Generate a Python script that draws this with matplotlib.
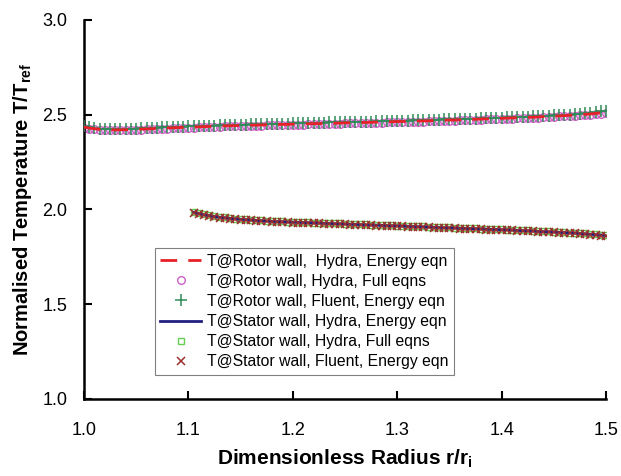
import numpy as np
import matplotlib
matplotlib.use("Agg")
import matplotlib.pyplot as plt

plt.rcParams['font.family'] = ['Liberation Sans', 'DejaVu Sans']
plt.rcParams['mathtext.fontset'] = 'custom'
plt.rcParams['mathtext.rm'] = 'Liberation Sans:bold'
plt.rcParams['mathtext.bf'] = 'Liberation Sans:bold'

# ---- data ----
rotor_r = np.round(np.arange(1.000, 1.5001, 0.005), 3)
rotor_hydra_energy = [
    2.435, 2.430, 2.426, 2.423, 2.421, 2.420, 2.420, 2.420, 2.421, 2.422,
    2.423, 2.424, 2.425, 2.426, 2.428, 2.429, 2.430, 2.431, 2.432, 2.433,
    2.434, 2.435, 2.436, 2.437, 2.438, 2.439, 2.440, 2.441, 2.442, 2.442,
    2.443, 2.444, 2.445, 2.445, 2.446, 2.447, 2.447, 2.448, 2.449, 2.449,
    2.450, 2.451, 2.451, 2.452, 2.453, 2.453, 2.454, 2.455, 2.455, 2.456,
    2.457, 2.457, 2.458, 2.459, 2.459, 2.460, 2.461, 2.461, 2.462, 2.463,
    2.464, 2.464, 2.465, 2.466, 2.467, 2.467, 2.468, 2.469, 2.470, 2.471,
    2.472, 2.472, 2.473, 2.474, 2.475, 2.476, 2.477, 2.478, 2.479, 2.480,
    2.481, 2.482, 2.483, 2.484, 2.485, 2.486, 2.487, 2.488, 2.490, 2.491,
    2.492, 2.494, 2.495, 2.497, 2.498, 2.500, 2.502, 2.504, 2.507, 2.510,
    2.515]
rotor_hydra_full = [
    2.432, 2.427, 2.423, 2.420, 2.418, 2.417, 2.417, 2.417, 2.418, 2.419,
    2.420, 2.421, 2.422, 2.423, 2.425, 2.426, 2.427, 2.428, 2.429, 2.430,
    2.431, 2.432, 2.433, 2.434, 2.435, 2.436, 2.437, 2.438, 2.439, 2.439,
    2.440, 2.441, 2.442, 2.442, 2.443, 2.444, 2.444, 2.445, 2.446, 2.446,
    2.447, 2.448, 2.448, 2.449, 2.450, 2.450, 2.451, 2.452, 2.452, 2.453,
    2.454, 2.454, 2.455, 2.456, 2.456, 2.457, 2.458, 2.458, 2.459, 2.460,
    2.461, 2.461, 2.462, 2.463, 2.464, 2.464, 2.465, 2.466, 2.467, 2.468,
    2.469, 2.469, 2.470, 2.471, 2.472, 2.473, 2.474, 2.475, 2.476, 2.477,
    2.478, 2.479, 2.480, 2.481, 2.482, 2.483, 2.484, 2.485, 2.487, 2.488,
    2.489, 2.491, 2.492, 2.494, 2.495, 2.497, 2.499, 2.501, 2.503, 2.506,
    2.510]
rotor_fluent_energy = [
    2.438, 2.434, 2.430, 2.427, 2.425, 2.424, 2.424, 2.424, 2.425, 2.426,
    2.427, 2.428, 2.429, 2.430, 2.432, 2.433, 2.434, 2.435, 2.436, 2.437,
    2.438, 2.439, 2.440, 2.441, 2.442, 2.443, 2.444, 2.445, 2.446, 2.446,
    2.447, 2.448, 2.449, 2.449, 2.450, 2.451, 2.451, 2.452, 2.453, 2.453,
    2.454, 2.455, 2.455, 2.456, 2.457, 2.457, 2.458, 2.459, 2.459, 2.460,
    2.461, 2.461, 2.462, 2.463, 2.463, 2.464, 2.465, 2.465, 2.466, 2.467,
    2.468, 2.468, 2.469, 2.470, 2.471, 2.471, 2.472, 2.473, 2.474, 2.475,
    2.476, 2.476, 2.477, 2.478, 2.479, 2.480, 2.481, 2.482, 2.483, 2.484,
    2.485, 2.486, 2.487, 2.488, 2.489, 2.490, 2.491, 2.492, 2.494, 2.495,
    2.496, 2.498, 2.499, 2.501, 2.503, 2.505, 2.507, 2.510, 2.513, 2.517,
    2.522]

stator_r = np.round(np.arange(1.105, 1.5001, 0.005), 3)
stator_hydra_energy = [
    1.985, 1.978, 1.972, 1.967, 1.963, 1.959, 1.956, 1.953, 1.950, 1.948,
    1.946, 1.944, 1.942, 1.940, 1.939, 1.937, 1.936, 1.935, 1.934, 1.933,
    1.932, 1.931, 1.930, 1.929, 1.928, 1.927, 1.926, 1.925, 1.924, 1.923,
    1.922, 1.921, 1.920, 1.919, 1.918, 1.917, 1.916, 1.915, 1.914, 1.913,
    1.912, 1.911, 1.910, 1.909, 1.908, 1.907, 1.906, 1.905, 1.904, 1.903,
    1.902, 1.901, 1.900, 1.899, 1.898, 1.897, 1.896, 1.895, 1.894, 1.893,
    1.892, 1.891, 1.889, 1.888, 1.887, 1.886, 1.884, 1.883, 1.882, 1.881,
    1.879, 1.878, 1.876, 1.875, 1.873, 1.871, 1.869, 1.867, 1.865, 1.862]
stator_hydra_full = [
    1.987, 1.980, 1.974, 1.969, 1.965, 1.961, 1.958, 1.955, 1.952, 1.950,
    1.948, 1.946, 1.944, 1.942, 1.941, 1.939, 1.938, 1.937, 1.936, 1.935,
    1.934, 1.933, 1.932, 1.931, 1.930, 1.929, 1.928, 1.927, 1.926, 1.925,
    1.924, 1.923, 1.922, 1.921, 1.920, 1.919, 1.918, 1.917, 1.916, 1.915,
    1.914, 1.913, 1.912, 1.911, 1.910, 1.909, 1.908, 1.907, 1.906, 1.905,
    1.904, 1.903, 1.902, 1.901, 1.900, 1.899, 1.898, 1.897, 1.896, 1.895,
    1.894, 1.893, 1.891, 1.890, 1.889, 1.888, 1.886, 1.885, 1.884, 1.883,
    1.881, 1.880, 1.878, 1.877, 1.875, 1.873, 1.871, 1.869, 1.867, 1.864]
stator_fluent_energy = [
    1.982, 1.976, 1.970, 1.965, 1.961, 1.957, 1.954, 1.951, 1.948, 1.946,
    1.944, 1.942, 1.940, 1.938, 1.937, 1.935, 1.934, 1.933, 1.932, 1.931,
    1.930, 1.929, 1.928, 1.927, 1.926, 1.925, 1.924, 1.923, 1.922, 1.921,
    1.920, 1.919, 1.918, 1.917, 1.916, 1.915, 1.914, 1.913, 1.912, 1.911,
    1.910, 1.909, 1.908, 1.907, 1.906, 1.905, 1.904, 1.903, 1.902, 1.901,
    1.900, 1.899, 1.898, 1.897, 1.896, 1.895, 1.894, 1.893, 1.892, 1.891,
    1.890, 1.889, 1.887, 1.886, 1.885, 1.884, 1.882, 1.881, 1.880, 1.879,
    1.877, 1.876, 1.874, 1.873, 1.871, 1.869, 1.867, 1.865, 1.862, 1.858]

labels = [
    "T@Rotor wall,  Hydra, Energy eqn",
    "T@Rotor wall, Hydra, Full eqns",
    "T@Rotor wall, Fluent, Energy eqn",
    "T@Stator wall, Hydra, Energy eqn",
    "T@Stator wall, Hydra, Full eqns",
    "T@Stator wall, Fluent, Energy eqn",
]
x_ticks = [1.0, 1.1, 1.2, 1.3, 1.4, 1.5]
y_ticks = [1.0, 1.5, 2.0, 2.5, 3.0]

fig = plt.figure(figsize=(6.21, 4.76), dpi=100)
ax = fig.add_axes([0.135, 0.162, 0.841, 0.796])

h_rf, = ax.plot(rotor_r, rotor_hydra_full, linestyle='none', marker='o', ms=5.5,
                mfc='none', mec='#cc5fc4', mew=1.0, zorder=2)
h_rfl, = ax.plot(rotor_r, rotor_fluent_energy, linestyle='none', marker='+', ms=8,
                 mec='#2e8b57', mew=1.1, zorder=3)
h_re, = ax.plot(rotor_r, rotor_hydra_energy, color='#e8202a', lw=2.0,
                dashes=(6, 4), zorder=4)

h_sf, = ax.plot(stator_r, stator_hydra_full, linestyle='none', marker='s', ms=5,
                mfc='none', mec='#66cc55', mew=1.0, zorder=2)
h_se, = ax.plot(stator_r, stator_hydra_energy, color='#1f1f80', lw=2.0, zorder=3)
h_sfl, = ax.plot(stator_r, stator_fluent_energy, linestyle='none', marker='x', ms=6,
                 mec='#9b2f2f', mew=1.1, zorder=4)

ax.set_xlim(1.0, 1.5)
ax.set_ylim(1.0, 3.0)
ax.set_xticks(x_ticks)
ax.set_yticks(y_ticks)
ax.set_xticklabels([f"{v:.1f}" for v in x_ticks])
ax.set_yticklabels([f"{v:.1f}" for v in y_ticks])
ax.tick_params(direction='in', length=6, width=1.5, labelsize=13)
ax.tick_params(axis='x', pad=17)
ax.tick_params(axis='y', pad=12)
for s in ['top', 'right']:
    ax.spines[s].set_visible(False)
for s in ['left', 'bottom']:
    ax.spines[s].set_linewidth(1.8)

ax.set_xlabel(r"Dimensionless Radius r/r$_{\mathrm{i}}$", fontsize=15,
              fontweight='bold', labelpad=6)
ax.set_ylabel(r"Normalised Temperature T/T$_{\mathrm{ref}}$", fontsize=14.5,
              fontweight='bold', labelpad=6)

leg = ax.legend([h_re, h_rf, h_rfl, h_se, h_sf, h_sfl], labels,
                loc='upper left', bbox_to_anchor=(0.136, 0.398),
                fontsize=11.3, frameon=True, fancybox=False, edgecolor='#808080',
                handlelength=2.6, handletextpad=0.35, labelspacing=0.33,
                borderpad=0.35, borderaxespad=0, framealpha=1)
leg.get_frame().set_linewidth(0.8)

fig.savefig("out.png", dpi=100)
